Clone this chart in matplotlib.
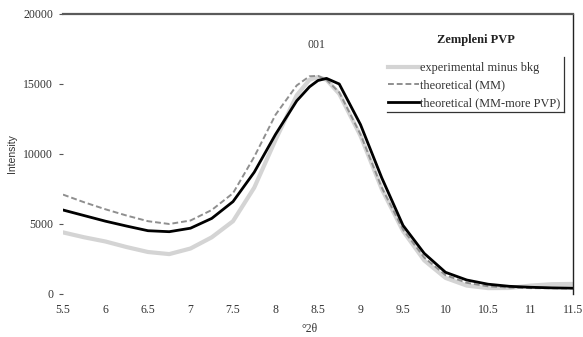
import matplotlib
matplotlib.use("Agg")
import matplotlib.pyplot as plt

# ---- data ----
two_theta = [5.5, 5.75, 6.0, 6.25, 6.5, 6.75, 7.0, 7.25, 7.5, 7.75, 8.0, 8.25, 8.4, 8.5,
             8.6, 8.75, 9.0, 9.25, 9.5, 9.75, 10.0, 10.25, 10.5, 10.75, 11.0, 11.25, 11.5]
experimental = [4400, 4050, 3750, 3350, 3000, 2850, 3250, 4050, 5200, 7600, 11000, 14200, 15300, 15500,
                15300, 14300, 11300, 7500, 4500, 2400, 1150, 600, 420, 430, 600, 700, 720]
theor_mm = [7100, 6550, 6050, 5600, 5200, 5000, 5250, 6000, 7200, 9800, 12800, 14900, 15550, 15580,
            15300, 14400, 11400, 7600, 4600, 2600, 1350, 800, 550, 460, 420, 410, 400]
theor_more = [6000, 5600, 5200, 4850, 4520, 4450, 4700, 5400, 6600, 8700, 11400, 13800, 14800, 15250,
              15400, 15000, 12100, 8300, 4900, 2900, 1550, 1000, 700, 550, 480, 440, 420]

series_labels = ["experimental minus bkg", "theoretical (MM)", "theoretical (MM-more PVP)"]
legend_title = "Zempleni PVP"
x_ticks = [5.5, 6, 6.5, 7, 7.5, 8, 8.5, 9, 9.5, 10, 10.5, 11, 11.5]
x_ticklabels = ["5.5", "6", "6.5", "7", "7.5", "8", "8.5", "9", "9.5", "10", "10.5", "11", "11.5"]
x_marks = [6, 6.5, 7, 8.5, 9.5, 10]
y_ticks = [0, 5000, 10000, 15000, 20000]
peak_label = "001"
peak_pos = (8.48, 17800)

serif = ["Liberation Serif", "DejaVu Serif"]
sans = ["Liberation Sans", "DejaVu Sans"]
txt = "#333333"

fig = plt.figure(figsize=(5.83, 3.37), dpi=100)
ax = fig.add_axes([63/583, 1-294/337, 510/583, 280/337])

ax.plot(two_theta, experimental, color="#d4d4d4", lw=3.0, label=series_labels[0])
ax.plot(two_theta, theor_mm, color="#8f8f8f", lw=1.4, ls=(0, (3, 1.5)), label=series_labels[1])
ax.plot(two_theta, theor_more, color="black", lw=2.0, label=series_labels[2])

ax.set_xlim(5.5, 11.5)
ax.set_ylim(0, 20000)

for s in ["left", "bottom"]:
    ax.spines[s].set_visible(False)
ax.spines["top"].set_color("#5a5a5a")
ax.spines["top"].set_linewidth(1.6)
ax.spines["right"].set_color("#222222")
ax.spines["right"].set_linewidth(1.0)

ax.set_xticks(x_ticks)
ax.set_xticklabels(x_ticklabels, fontfamily=serif, fontsize=8.5, color=txt)
ax.tick_params(axis="x", which="major", length=0, pad=7)
ax.set_xticks(x_marks, minor=True)
ax.tick_params(axis="x", which="minor", length=5, direction="inout", width=1, color="#333333")

ax.set_yticks(y_ticks)
ax.set_yticklabels([str(v) for v in y_ticks], fontfamily=serif, fontsize=8.5, color=txt)
ax.tick_params(axis="y", length=3, width=0.8, color="#555555", pad=4)

ax.set_ylabel("Intensity", fontfamily=sans, fontsize=7.5, color=txt)
ax.yaxis.set_label_coords(-0.09, 0.5)
ax.set_xlabel("°2θ", fontfamily=serif, fontsize=8.5, color=txt)
ax.xaxis.set_label_coords(0.484, -0.105)

ax.text(peak_pos[0], peak_pos[1], peak_label, ha="center", va="center",
        fontfamily=serif, fontsize=8.5, color=txt)

leg = ax.legend(loc="upper left", bbox_to_anchor=(0.628, 0.846), frameon=False,
                prop={"family": serif, "size": 8.8}, handlelength=2.5, handletextpad=0.1,
                labelspacing=0.45, borderaxespad=0, borderpad=0.4)
for t in leg.get_texts():
    t.set_color(txt)
ax.text(0.81, 0.907, legend_title, transform=ax.transAxes, ha="center", va="center",
        fontfamily=serif, fontsize=9, fontweight="bold", color="#222222")

# partial legend frame (right and bottom edges)
ax.plot([0.982, 0.982], [0.65, 0.846], transform=ax.transAxes, color="#333333", lw=0.9, clip_on=False)
ax.plot([0.635, 0.982], [0.65, 0.65], transform=ax.transAxes, color="#333333", lw=0.9, clip_on=False)

fig.savefig("out.png", dpi=100)
